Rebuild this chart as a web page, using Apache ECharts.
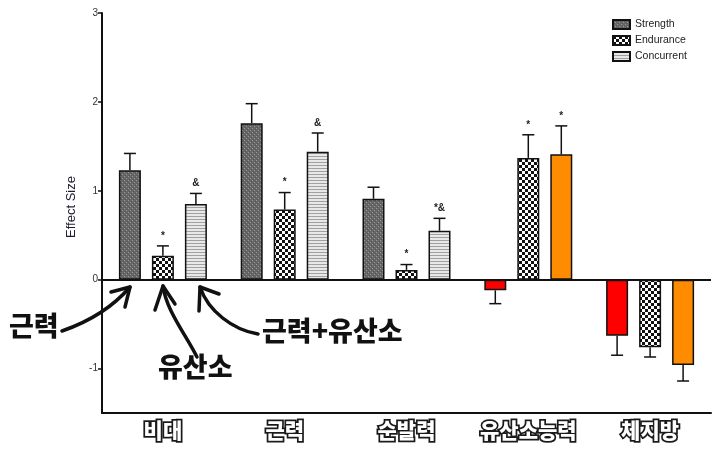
<!DOCTYPE html>
<html><head><meta charset="utf-8">
<script src="https://cdn.jsdelivr.net/npm/echarts@6/dist/echarts.min.js"></script>
<style>html,body{margin:0;padding:0;background:#fff}#c{width:720px;height:452px}</style>
</head><body><div id="c"></div>
<script>
// ---- data ----
const categories = ['비대', '근력', '순발력', '유산소능력', '체지방'];
const seriesNames = ['Strength', 'Endurance', 'Concurrent'];
const strengthVals   = [1.23, 1.76, 0.91, -0.12, -0.63];
const strengthSE     = [0.19, 0.22, 0.13, 0.15, 0.22];
const enduranceVals  = [0.27, 0.79, 0.11, 1.37, -0.76];
const enduranceSE    = [0.11, 0.19, 0.06, 0.26, 0.11];
const concurrentVals = [0.85, 1.44, 0.55, 1.41, -0.96];
const concurrentSE   = [0.12, 0.21, 0.14, 0.32, 0.18];
const strengthMarks   = ['', '', '', '', ''];
const enduranceMarks  = ['*', '*', '*', '*', ''];
const concurrentMarks = ['&', '&', '*&', '*', ''];
const yTicks = [-1, 0, 1, 2, 3];
const solidStrengthCats = [3, 4];   // drawn red
const solidConcurrentCats = [3, 4]; // drawn orange

// ---- patterns ----
function pat(w, h, draw) {
  const c = document.createElement('canvas'); c.width = w; c.height = h;
  draw(c.getContext('2d')); return { image: c, repeat: 'repeat' };
}
const strengthPat = pat(4, 4, g => {
  g.fillStyle = '#666'; g.fillRect(0, 0, 4, 4);
  g.fillStyle = '#999'; g.fillRect(0, 0, 1, 1); g.fillRect(2, 2, 1, 1);
  g.fillStyle = '#555'; g.fillRect(1, 3, 1, 1); g.fillRect(3, 1, 1, 1);
});
const endurancePat = pat(6, 6, g => {
  g.fillStyle = '#fff'; g.fillRect(0, 0, 6, 6);
  g.fillStyle = '#111'; g.fillRect(0, 0, 3, 3); g.fillRect(3, 3, 3, 3);
});
const concurrentPat = pat(3, 3, g => {
  g.fillStyle = '#e8e8e8'; g.fillRect(0, 0, 3, 3);
  g.fillStyle = '#a0a0a0'; g.fillRect(0, 0, 3, 1);
});

const BAR_W = 22, BAR_STEP = 33;
const vals = [strengthVals, enduranceVals, concurrentVals];
const ses = [strengthSE, enduranceSE, concurrentSE];
const marks = [strengthMarks, enduranceMarks, concurrentMarks];
const pats = [strengthPat, endurancePat, concurrentPat];

function barData(k) {
  return vals[k].map((v, i) => {
    if (k === 0 && solidStrengthCats.includes(i)) return { value: v, itemStyle: { color: '#ff0000' } };
    if (k === 2 && solidConcurrentCats.includes(i)) return { value: v, itemStyle: { color: '#ff8c00' } };
    return v;
  });
}

const series = [];
seriesNames.forEach((n, k) => {
  series.push({
    name: n, type: 'bar', data: barData(k), barWidth: BAR_W, barGap: '50%',
    itemStyle: { color: pats[k], borderColor: '#111', borderWidth: 1.5 },
    z: 2,
    markLine: k === 0 ? {
      silent: true, symbol: 'none', label: { show: false },
      lineStyle: { color: '#111', width: 2, type: 'solid' },
      data: [{ yAxis: 0 }]
    } : undefined
  });
});
seriesNames.forEach((n, k) => {
  series.push({
    type: 'custom', z: 3, silent: true,
    data: vals[k].map((v, i) => [i, v, ses[k][i]]),
    renderItem: (params, api) => {
      const i = api.value(0), v = api.value(1), se = api.value(2);
      const m = marks[k][i];
      const sgn = v >= 0 ? 1 : -1;
      const p0 = api.coord([i, v]);
      const p1 = api.coord([i, v + sgn * se]);
      const x = p0[0] + (k - 1) * BAR_STEP;
      const ls = { stroke: '#111', lineWidth: 1.5 };
      const ch = [
        { type: 'line', shape: { x1: x, y1: p0[1], x2: x, y2: p1[1] }, style: ls },
        { type: 'line', shape: { x1: x - 6, y1: p1[1], x2: x + 6, y2: p1[1] }, style: ls }
      ];
      if (m) ch.push({ type: 'text', style: { text: m, x: x, y: p1[1] - 5, align: 'center', verticalAlign: 'bottom',
        fill: '#222', font: 'bold 10px "Liberation Sans", Arial' } });
      return { type: 'group', children: ch };
    }
  });
});

const arrowStyle = { stroke: '#111', lineWidth: 3.5, fill: null, lineCap: 'round', lineJoin: 'round' };
const annFont = '900 27px "Noto Sans CJK KR"';

const chart = echarts.init(document.getElementById('c'), null, { renderer: 'canvas' });
chart.setOption({
  animation: false,
  backgroundColor: '#fff',
  grid: { left: 102, right: 9, top: 13, bottom: 39, containLabel: false },
  legend: {
    data: seriesNames, orient: 'vertical', left: 607, top: 14,
    icon: 'rect', itemWidth: 17, itemHeight: 9, itemGap: 5,
    textStyle: { fontSize: 10.5, color: '#222', fontFamily: '"Liberation Sans", Arial' }
  },
  xAxis: {
    type: 'category', data: categories,
    axisLine: { onZero: false, lineStyle: { color: '#111', width: 2 } },
    axisTick: { alignWithLabel: true, interval: 0, length: 5, lineStyle: { color: '#111', width: 1.5 } },
    axisLabel: { interval: 0, hideOverlap: false, margin: 7, fontSize: 21, fontWeight: 900, color: '#fff',
      fontFamily: '"Noto Sans CJK KR"', textBorderColor: '#1a1a1a', textBorderWidth: 3.5 },
    splitLine: { show: false }
  },
  yAxis: {
    type: 'value', min: -1.5, max: 3,
    name: 'Effect Size', nameLocation: 'middle', nameRotate: 90, nameGap: 21,
    nameTextStyle: { fontSize: 13, color: '#1c1c34', fontFamily: '"Liberation Sans", Arial', padding: [0, 0, 0, 12] },
    axisLine: { show: true, lineStyle: { color: '#111', width: 2 } },
    axisTick: { show: true, customValues: yTicks, length: 4, lineStyle: { color: '#111', width: 1.5 } },
    axisLabel: { customValues: yTicks, fontSize: 10, color: '#333', margin: 4,
      fontFamily: '"Liberation Sans", Arial' },
    splitLine: { show: false }
  },
  series: series,
  graphic: [
    { type: 'bezierCurve', shape: { x1: 62, y1: 331, cpx1: 88, cpy1: 322, cpx2: 112, cpy2: 308, x2: 130, y2: 287 }, style: arrowStyle },
    { type: 'polyline', shape: { points: [[111, 292], [130, 287], [125, 307]] }, style: arrowStyle },
    { type: 'bezierCurve', shape: { x1: 197, y1: 357, cpx1: 186, cpy1: 335, cpx2: 166, cpy2: 310, x2: 163, y2: 286 }, style: arrowStyle },
    { type: 'polyline', shape: { points: [[155, 310], [163, 286], [175, 304]] }, style: arrowStyle },
    { type: 'bezierCurve', shape: { x1: 258, y1: 334, cpx1: 233, cpy1: 330, cpx2: 208, cpy2: 311, x2: 200, y2: 287 }, style: arrowStyle },
    { type: 'polyline', shape: { points: [[199, 311], [200, 287], [219, 294]] }, style: arrowStyle },
    { type: 'text', left: 9, top: 312, style: { text: '근력', font: annFont, fill: '#111' } },
    { type: 'text', left: 158, top: 353, style: { text: '유산소', font: annFont, fill: '#111' } },
    { type: 'text', left: 262, top: 317, style: { text: '근력+유산소', font: annFont, fill: '#111' } }
  ]
});
</script></body></html>
